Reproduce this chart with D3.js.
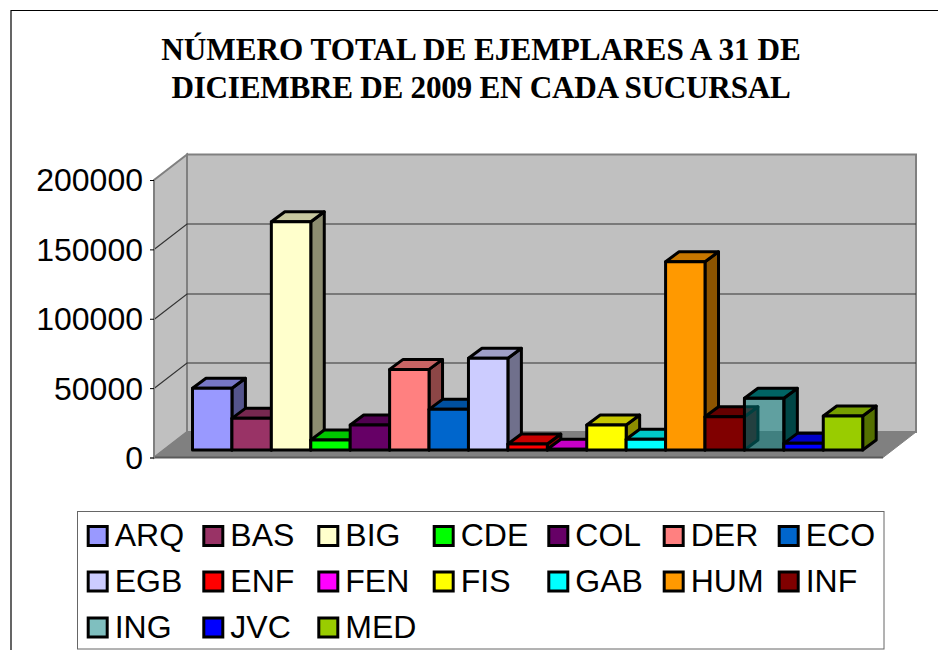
<!DOCTYPE html>
<html><head><meta charset="utf-8">
<style>html,body{margin:0;padding:0;background:#fff;overflow:hidden}svg{display:block}</style>
<script src="https://cdn.jsdelivr.net/npm/d3@7"></script></head>
<body><svg id="c" width="938" height="650"></svg>
<script>
const titleLines = ["NÚMERO TOTAL DE EJEMPLARES A 31 DE", "DICIEMBRE DE 2009 EN CADA SUCURSAL"];
const categories = ["ARQ","BAS","BIG","CDE","COL","DER","ECO","EGB","ENF","FEN","FIS","GAB","HUM","INF","ING","JVC","MED"];
const values = [44500,22800,164500,7200,18000,58100,29300,66100,4300,500,18000,7700,135700,24000,37300,4800,24500];
const colors = ["#9999FF","#993366","#FFFFCC","#00FF00","#660066","#FF8080","#0066CC","#CCCCFF","#FF0000","#FF00FF","#FFFF00","#00FFFF","#FF9900","#800000","#008080","#0000FF","#99CC00"];
const translucent = ["ING"];
const yTicks = [0,50000,100000,150000,200000];

const svg = d3.select("#c");
const poly = pts => pts.map(p=>p.join(",")).join(" ");

// frame
svg.append("path").attr("d","M11,650V10.5H945").attr("fill","none").attr("stroke","#000").attr("stroke-width",1.2);

// title
svg.append("g").selectAll("text").data(titleLines).join("text")
  .attr("x",481).attr("y",(d,i)=>59.5+i*38.2).attr("text-anchor","middle")
  .attr("letter-spacing",(d,i)=>i?-0.27:0)
  .attr("font-family","Liberation Serif").attr("font-weight","bold").attr("font-size",31.2).attr("fill","#000").text(d=>d);

// plot geometry
const fx=154, fy0=457.5, fyT=180, wallDx=33, wallDy=-25.5, floorR=883;
const y = d3.scaleLinear().domain([0,200000]).range([fy0,fyT]);
const barH = d3.scaleLinear().domain([0,200000]).range([0,fy0-fyT]);
const x = d3.scaleBand().domain(categories).range([192.5,862.7]);
const barDx=13.5, barDy=-10, barBase=450;

// side wall, back wall, floor
svg.append("polygon").attr("points",poly([[fx,y(200000)],[fx+wallDx,y(200000)+wallDy],[fx+wallDx,fy0+wallDy],[fx,fy0]]))
  .attr("fill","#C0C0C0").attr("stroke","#808080").attr("stroke-width",2);
svg.append("rect").attr("x",fx+wallDx).attr("y",y(200000)+wallDy).attr("width",floorR-fx).attr("height",fy0-fyT)
  .attr("fill","#C0C0C0").attr("stroke","#808080").attr("stroke-width",2);
svg.append("polygon").attr("points",poly([[fx,fy0],[floorR,fy0],[floorR+wallDx,fy0+wallDy],[fx+wallDx,fy0+wallDy]]))
  .attr("fill","#808080").attr("stroke","#808080").attr("stroke-width",1);
svg.append("line").attr("x1",fx).attr("x2",floorR).attr("y1",fy0).attr("y2",fy0).attr("stroke","#5a5a5a").attr("stroke-width",2);

// gridlines
const grid = svg.append("g").attr("stroke","#333").attr("stroke-width",1.2).attr("fill","none");
yTicks.filter(t=>t>0&&t<200000).forEach(t=>{
  const yy=Math.round(y(t))+.5;
  grid.append("path").attr("d",`M${fx},${yy}L${fx+wallDx},${yy+wallDy}H${floorR+wallDx}`);
});
// axis line and ticks
const axis = d3.axisLeft(y).tickValues(yTicks).tickSize(4).tickPadding(7).tickFormat(d3.format("d"));
const ag = svg.append("g").attr("transform",`translate(${fx},0)`).call(axis);
ag.select(".domain").attr("stroke","#808080").attr("stroke-width",1);
ag.selectAll(".tick line").attr("stroke","#000");
ag.selectAll(".tick text").attr("font-family","Liberation Sans").attr("font-size",32).attr("fill","#000").attr("dy","0.34em");

// bars
const shade=(c,k)=>{const r=d3.rgb(c);return d3.rgb(r.r*k,r.g*k,r.b*k).formatHex();};
const gBars = svg.append("g").attr("stroke","#000").attr("stroke-width",3).attr("stroke-linejoin","round");
categories.forEach((c,i)=>{
  const x0=x(c), x1=x0+x.bandwidth(), h=barH(values[i]), t=barBase-h, col=colors[i];
  const g=gBars.append("g");
  g.append("polygon").attr("points",poly([[x1,barBase],[x1+barDx,barBase+barDy],[x1+barDx,t+barDy],[x1,t]])).attr("fill",shade(col,.55));
  g.append("polygon").attr("points",poly([[x0,t],[x0+barDx,t+barDy],[x1+barDx,t+barDy],[x1,t]])).attr("fill",shade(col,.78));
  g.append("rect").attr("x",x0).attr("y",t).attr("width",x1-x0).attr("height",h).attr("fill",col)
    .attr("fill-opacity",translucent.includes(c)?0.5:1);
});

// legend
svg.append("rect").attr("x",77.5).attr("y",511.5).attr("width",806.5).attr("height",137.5).attr("fill","#fff").attr("stroke","#666").attr("stroke-width",1);
const legCols=[88.2,203.8,318.8,434.2,548.8,664.2,779.2], legRows=[536,581.5,627.5];
const leg=svg.append("g").selectAll("g").data(categories).join("g")
  .attr("transform",(d,i)=>`translate(${legCols[i%7]},${legRows[Math.floor(i/7)]})`);
leg.append("rect").attr("x",0).attr("y",-9.5).attr("width",19).attr("height",19)
  .attr("fill",(d,i)=>colors[i]).attr("fill-opacity",d=>translucent.includes(d)?0.5:1).attr("stroke","#000").attr("stroke-width",3);
leg.append("text").attr("x",26.5).attr("y",10).attr("font-family","Liberation Sans").attr("font-size",32).attr("fill","#000").text(d=>d);
</script></body></html>
